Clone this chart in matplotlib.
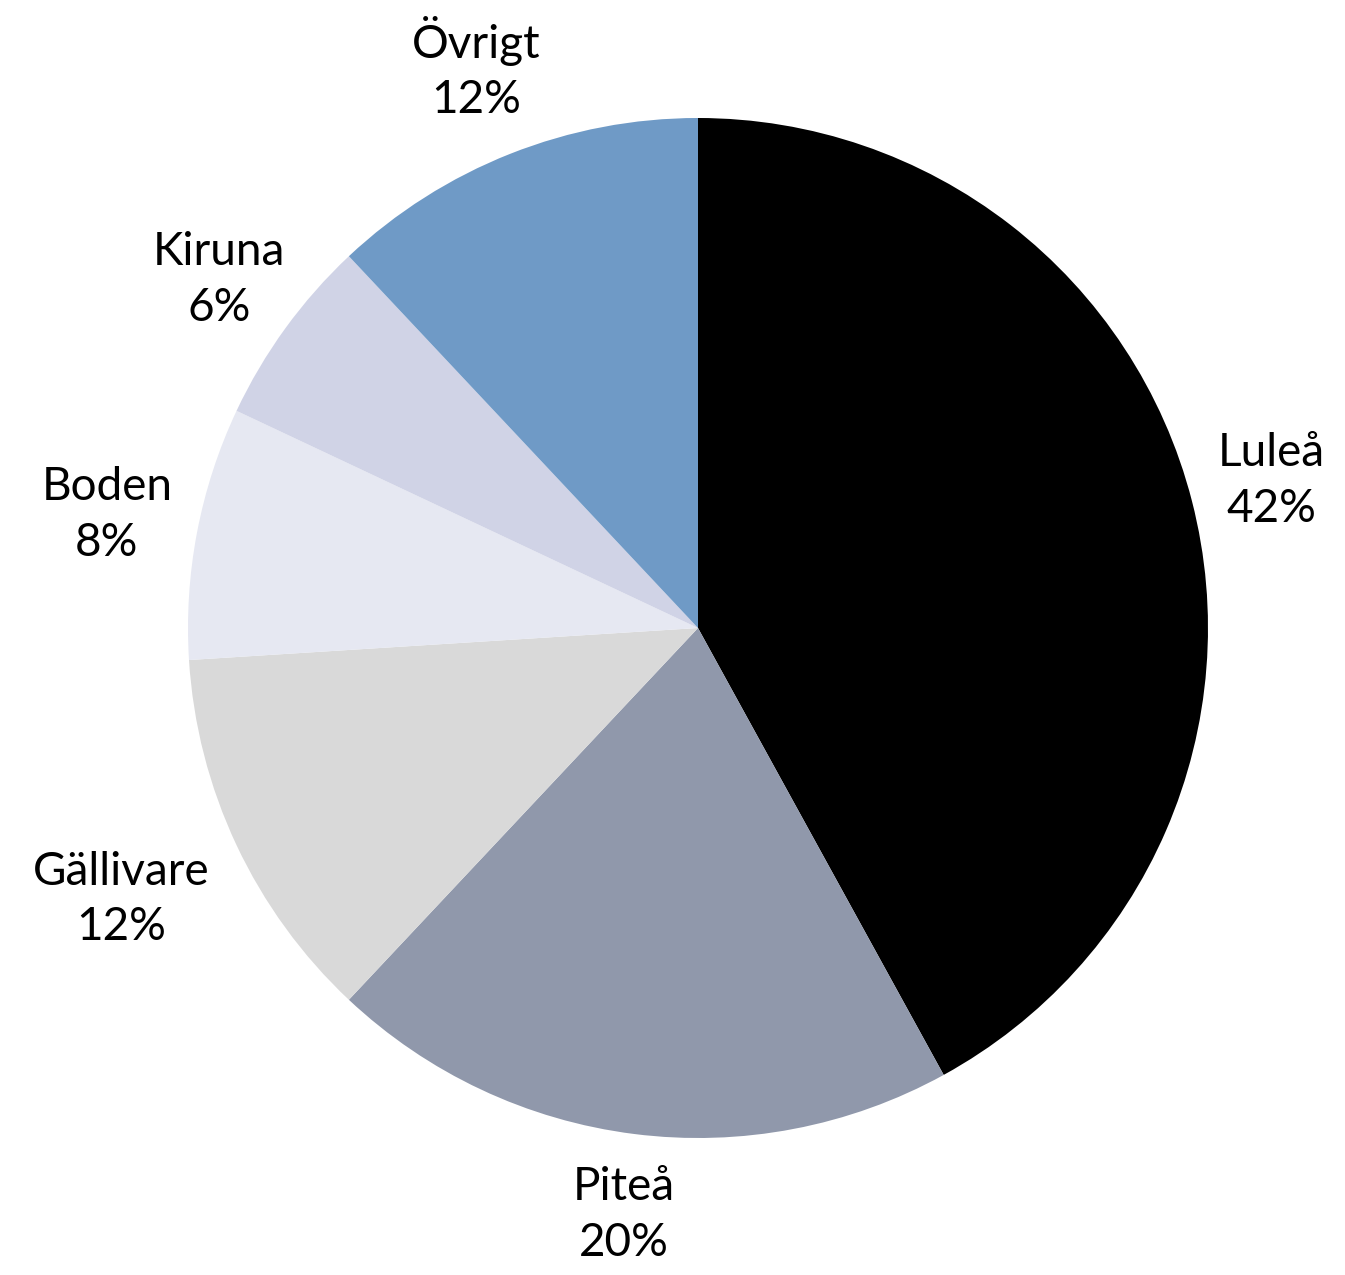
import numpy as np
import matplotlib
matplotlib.use("Agg")
import matplotlib.pyplot as plt

plt.rcParams["font.family"] = ["Lato", "DejaVu Sans"]

categories = ["Luleå", "Piteå", "Gällivare", "Boden", "Kiruna", "Övrigt"]
shares = [42, 20, 12, 8, 6, 12]
colors = ["#000000", "#9098ab", "#d9d9d9", "#e6e8f2", "#d0d3e6", "#6f9ac6"]
# label distance from centre, in pie radii
label_dist = [1.16, 1.16, 1.25, 1.18, 1.16, 1.18]

W, H = 1345, 1275
cx, cy, r = 698, 628, 510

fig = plt.figure(figsize=(W / 100, H / 100), dpi=100)
ax = fig.add_axes([(cx - r) / W, (H - cy - r) / H, 2 * r / W, 2 * r / H])

wedges, _ = ax.pie(shares, colors=colors, startangle=90, counterclock=False,
                   radius=1, wedgeprops=dict(linewidth=0))
ax.set_xlim(-1, 1)
ax.set_ylim(-1, 1)
ax.set_aspect("equal")
ax.axis("off")

for w, name, val, d in zip(wedges, categories, shares, label_dist):
    ang = np.deg2rad((w.theta1 + w.theta2) / 2)
    ax.text(d * np.cos(ang), d * np.sin(ang), f"{name}\n{val}%",
            ha="center", va="center", fontsize=33, linespacing=1.4,
            clip_on=False)

fig.savefig("out.png", dpi=100)
